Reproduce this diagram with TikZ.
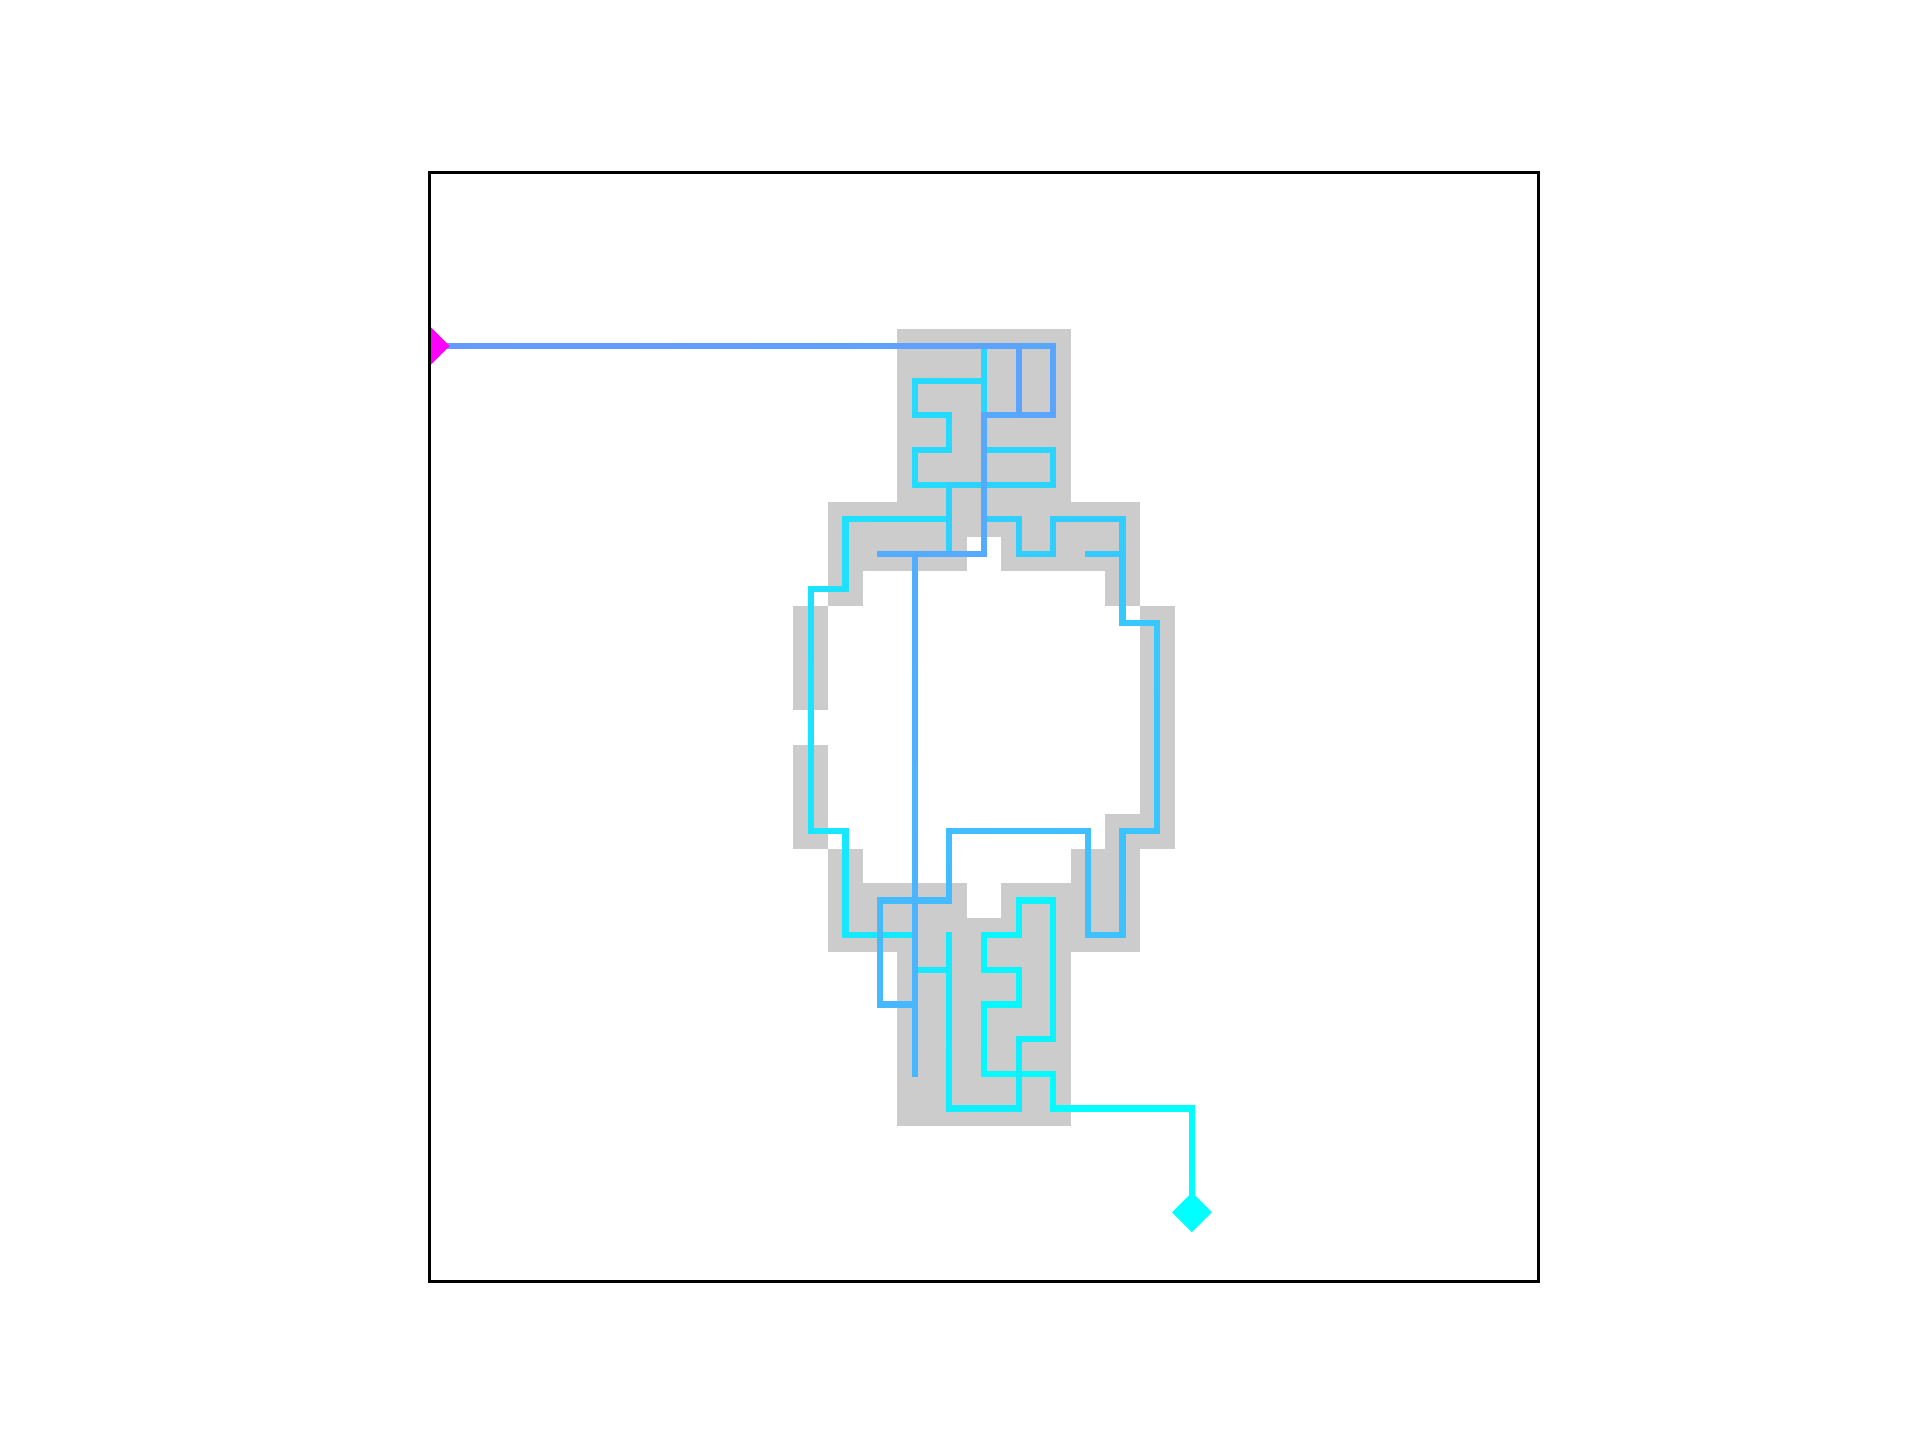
\documentclass[tikz,border=0pt]{standalone}
\usepackage{tikz}
\usetikzlibrary{shapes.geometric}
\definecolor{cellgray}{rgb}{0.8,0.8,0.8}
\definecolor{startpink}{rgb}{1,0,1}
\definecolor{endcyan}{rgb}{0,1,1}
\tikzstyle{cellfill} = [
    fill=cellgray
]
\tikzstyle{trail} = [
    line width=1.5pt,
    line cap=rect
]
\tikzstyle{startmark} = [
    diamond,
    inner sep=0pt,
    minimum width=9.8pt,
    minimum height=9.8pt,
    fill=startpink
]
\tikzstyle{endmark} = [
    diamond,
    inner sep=0pt,
    minimum width=9.8pt,
    minimum height=9.8pt,
    fill=endcyan
]
\tikzstyle{frame} = [draw=black, line width=0.8pt]
\newcommand{\trailsteps}{167}

\begin{document}
\begin{tikzpicture}[x=0.1155in, y=-0.1155in]

\useasboundingbox (-12.398,-4.987) rectangle (43.013,36.571);

\begin{scope}
\clip (0,0) rectangle (32,32);

% grey figure, one rectangle per block of cells
\foreach \a/\b/\c/\d in {14/5/18/9, 12/10/20/10, 12/11/15/11, 17/11/20/11,
    12/12/12/12, 20/12/20/12, 11/13/11/15, 11/17/11/19, 21/13/21/19,
    20/19/20/19, 12/20/12/20, 19/20/20/20, 12/21/15/21, 17/21/20/21,
    12/22/20/22, 14/23/18/27}
  \fill[cellfill] (\a-0.5,\b-0.5) rectangle (\c+0.5,\d+0.5);

% walk, drawn from the end back to the start, one unit step at a time
\xdef\acc{0}
\foreach \x/\y [remember=\x as \lx (initially 22), remember=\y as \ly (initially 30)] in
    {22/27, 18/27, 18/26, 16/26, 16/24, 17/24, 17/23, 16/23, 16/22, 17/22,
     17/21, 18/21, 18/25, 17/25, 17/27, 15/27, 15/22, 15/23, 14/23, 14/22,
     12/22, 12/19, 11/19, 11/12, 12/12, 12/10, 15/10, 15/9, 14/9, 14/8,
     15/8, 15/7, 14/7, 14/6, 16/6, 16/5, 16/8, 18/8, 18/9, 15/9,
     15/11, 16/11, 16/10, 17/10, 17/11, 18/11, 18/10, 20/10, 20/11, 19/11,
     20/11, 20/13, 21/13, 21/19, 20/19, 20/22, 19/22, 19/19, 15/19, 15/21,
     13/21, 13/24, 14/24, 14/26, 14/11, 13/11, 16/11, 16/7, 17/7, 17/5,
     18/5, 18/7, 17/7, 17/5, 0/5} {
  \pgfmathtruncatemacro\seg{abs(\x-\lx)+abs(\y-\ly)}
  \pgfmathsetmacro\dx{(\x-\lx)/\seg}
  \pgfmathsetmacro\dy{(\y-\ly)/\seg}
  \foreach \k in {1,...,\seg} {
    \pgfmathsetmacro\tr{0.4*(\acc+\k-0.5)/\trailsteps}
    \pgfmathsetmacro\tg{1-\tr}
    \definecolor{stepcol}{rgb}{\tr,\tg,1}
    \draw[trail, stepcol] ({\lx+(\k-1)*\dx},{\ly+(\k-1)*\dy}) -- ++(\dx,\dy);
  }
  \pgfmathtruncatemacro\nacc{\acc+\seg}
  \xdef\acc{\nacc}
}

\node (start) [startmark] at (0,5) {};
\node (finish) [endmark] at (22,30) {};
\end{scope}

\draw[frame] (0,0) rectangle (32,32);

\end{tikzpicture}
\end{document}
